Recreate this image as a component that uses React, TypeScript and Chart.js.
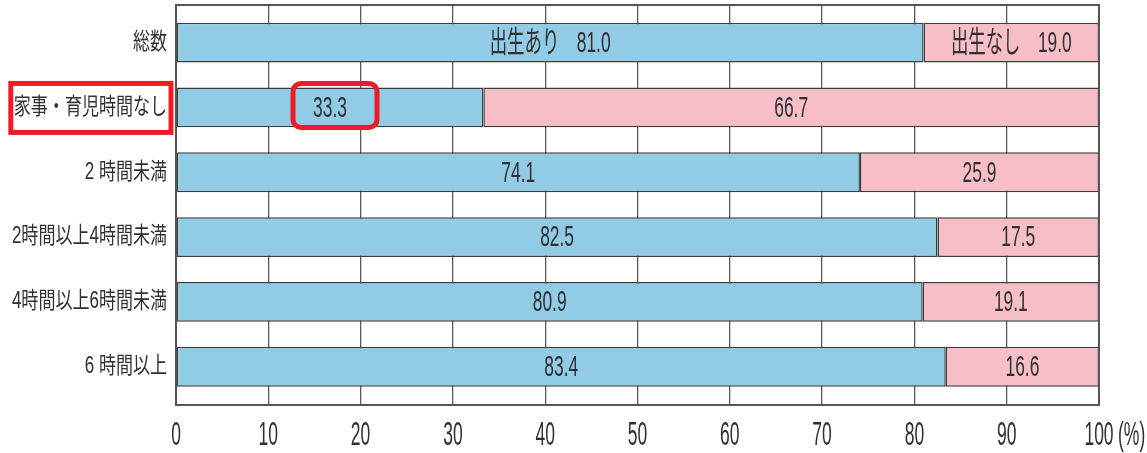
import React, { useEffect, useRef } from "react";
import { Chart, registerables } from "chart.js";

Chart.register(...registerables);

// Rows (top to bottom) and the share of each outcome, in percent
const categories = [
  "総数",
  "家事・育児時間なし",
  "2 時間未満",
  "2時間以上4時間未満",
  "4時間以上6時間未満",
  "6 時間以上",
];
const seriesNames = ["出生あり", "出生なし"];
const births = [81.0, 33.3, 74.1, 82.5, 80.9, 83.4];
const noBirths = [19.0, 66.7, 25.9, 17.5, 19.1, 16.6];
const xTicks = [0, 10, 20, 30, 40, 50, 60, 70, 80, 90, 100];
const unitLabel = "(%)";
const highlightRow = 1;

const BLUE = "#92cbe5";
const PINK = "#f7bec7";
const EDGE = "#3d3d3d";
const TEXT = "#303030";
const RED = "#ee1c25";
const LATIN = "'Liberation Sans', 'Noto Sans CJK JP', sans-serif";

function drawText(
  ctx: CanvasRenderingContext2D,
  text: string,
  x: number,
  y: number,
  size: number,
  sx: number,
  align: CanvasTextAlign
): number {
  ctx.save();
  ctx.font = `${size}px ${LATIN}`;
  ctx.fillStyle = TEXT;
  ctx.textBaseline = "middle";
  ctx.textAlign = align;
  ctx.translate(x, y);
  ctx.scale(sx, 1);
  ctx.fillText(text, 0, 0);
  const w = ctx.measureText(text).width * sx;
  ctx.restore();
  return w;
}

const labelsPlugin = {
  id: "condensedLabels",
  afterDatasetsDraw(chart: any) {
    const ctx: CanvasRenderingContext2D = chart.ctx;
    const area = chart.chartArea;
    const xs = chart.scales.x;
    const ys = chart.scales.y;

    // plot frame
    ctx.save();
    ctx.strokeStyle = "#555";
    ctx.lineWidth = 2;
    ctx.strokeRect(area.left, area.top, area.right - area.left, area.bottom - area.top);
    ctx.restore();

    // x tick labels
    xs.ticks.forEach((t: any) => {
      const px = xs.getPixelForValue(t.value);
      drawText(ctx, String(t.value), px, area.bottom + 31, 33, 0.53, "center");
    });
    drawText(ctx, unitLabel, xs.getPixelForValue(100) + 19, area.bottom + 31, 33, 0.53, "left");

    // row labels
    let hlLabel = { left: 0, right: 0, y: 0 };
    categories.forEach((c, i) => {
      const py = ys.getPixelForValue(i);
      const right = area.left - 9;
      const w = drawText(ctx, c, right, py, 23, 0.74, "right");
      if (i === highlightRow) hlLabel = { left: right - w, right, y: py };
    });

    // value labels centred in each segment
    let hlValue = { x: 0, y: 0 };
    chart.data.datasets.forEach((ds: any, di: number) => {
      const meta = chart.getDatasetMeta(di);
      meta.data.forEach((el: any, i: number) => {
        const { x, base, y } = el.getProps(["x", "base", "y"], true);
        const cx = (x + base) / 2;
        const v = ds.data[i].x.toFixed(1);
        const txt = i === 0 ? `${seriesNames[di]}　${v}` : v;
        drawText(ctx, txt, cx, y + 1, 30, 0.58, "center");
        if (di === 0 && i === highlightRow) hlValue = { x: cx, y };
      });
    });

    // red emphasis boxes
    ctx.save();
    ctx.strokeStyle = RED;
    ctx.lineWidth = 5;
    ctx.strokeRect(hlLabel.left - 3, hlLabel.y - 24, hlLabel.right - hlLabel.left + 7, 49);
    ctx.beginPath();
    ctx.roundRect(hlValue.x - 37, hlValue.y - 24, 84, 44, 8);
    ctx.stroke();
    ctx.restore();
  },
};

export default function App() {
  const ref = useRef<HTMLCanvasElement>(null);

  useEffect(() => {
    document.body.style.margin = "0";
    const dataset = (values: number[], idx: number, color: string) => ({
      label: seriesNames[idx],
      data: values.map((v, i) => ({ x: v, y: i })),
      backgroundColor: color,
      borderColor: EDGE,
      borderWidth: 1.5,
      borderSkipped: false,
      barPercentage: 0.615,
      categoryPercentage: 1,
    });
    const chart = new Chart(ref.current!, {
      type: "bar",
      data: {
        datasets: [dataset(births, 0, BLUE), dataset(noBirths, 1, PINK)] as any,
      },
      options: {
        indexAxis: "y",
        animation: false,
        responsive: false,
        layout: { padding: { top: 5, right: 48, left: 0, bottom: 0 } },
        plugins: { legend: { display: false }, tooltip: { enabled: false } },
        scales: {
          x: {
            type: "linear",
            stacked: true,
            min: xTicks[0],
            max: xTicks[xTicks.length - 1],
            afterBuildTicks: (s: any) => {
              s.ticks = xTicks.map((v) => ({ value: v }));
            },
            ticks: { display: false },
            grid: { color: "#5a5a5a", lineWidth: 1.3, drawTicks: false },
            border: { display: false },
            afterFit: (s: any) => {
              s.height = 48;
            },
          },
          y: {
            type: "linear",
            stacked: true,
            reverse: true,
            offset: false,
            min: -0.58,
            max: categories.length - 1 + 0.59,
            afterBuildTicks: (s: any) => {
              s.ticks = categories.map((_, i) => ({ value: i }));
            },
            ticks: { display: false },
            grid: { display: false },
            border: { display: false },
            afterFit: (s: any) => {
              s.width = 176;
            },
          },
        },
      } as any,
      plugins: [labelsPlugin],
    });
    return () => chart.destroy();
  }, []);

  return (
    <div style={{ width: 1147, height: 453 }}>
      <canvas ref={ref} width={1147} height={453} />
    </div>
  );
}
